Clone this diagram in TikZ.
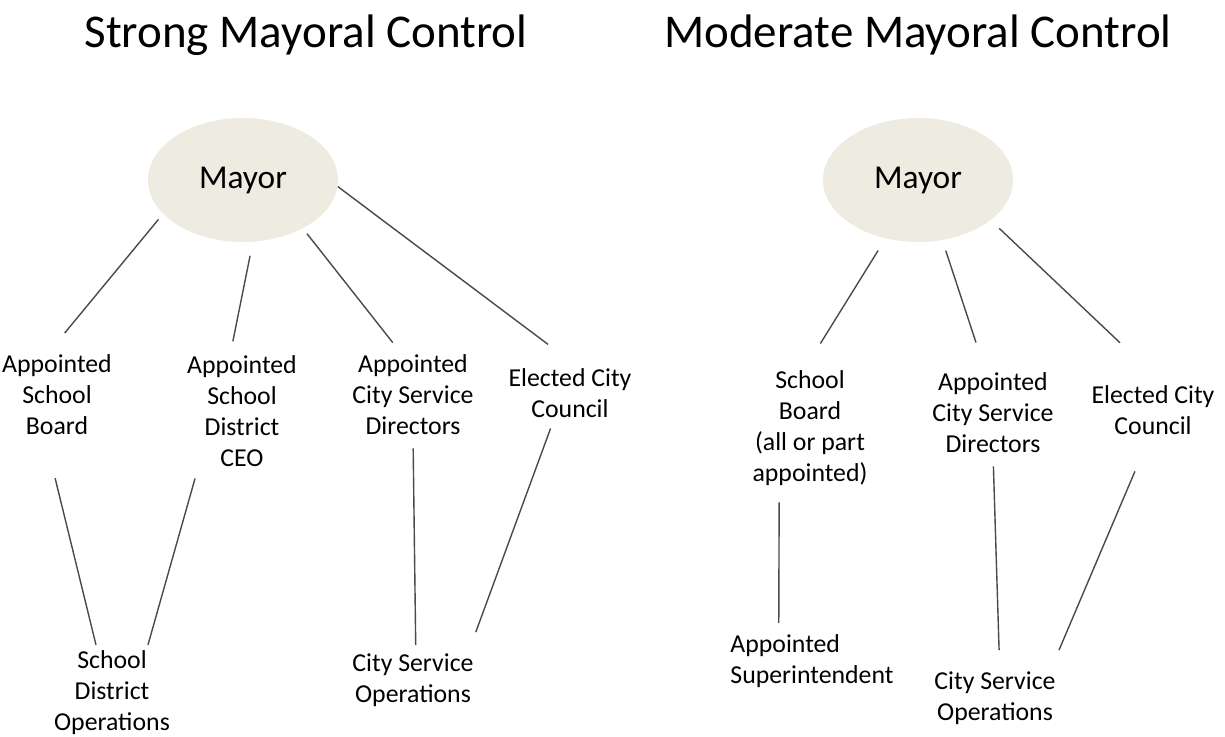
\documentclass[tikz,border=0pt]{standalone}
\usepackage{fontspec}
\setmainfont{Carlito}
\usetikzlibrary{shapes.geometric}
\definecolor{mayorfill}{HTML}{EEECE1}
\definecolor{linkgray}{HTML}{4A4A4A}
\begin{document}
\begin{tikzpicture}[x=0.5pt,y=-0.5pt,
  title/.style={font=\fontsize{23.5}{28}\selectfont},
  mayor/.style={shape=ellipse,fill=mayorfill,minimum width=95pt,minimum height=62pt,inner sep=0pt,font=\fontsize{16.7}{20}\selectfont},
  box/.style={align=center,inner sep=0pt,font=\fontsize{12.9}{15.5}\selectfont},
  link/.style={draw=linkgray,line width=0.7pt}]
\useasboundingbox (0,0) rectangle (1225,737);

\node(titleL) at (306,35)[title]{Strong Mayoral Control};
\node(titleR) at (918,35)[title]{Moderate Mayoral Control};

\node(mayorL) at (243,180)[mayor]{Mayor};
\node(asbL)  at (57,395)[box]{Appointed\\School\\Board};
\node(ceoL)  at (242,411)[box]{Appointed\\School\\District\\CEO};
\node(acsdL) at (413,395)[box]{Appointed\\City Service\\Directors};
\node(eccL)  at (570,393)[box]{Elected City\\Council};
\node(sdoL)  at (112,693)[box]{School\\District\\Operations};
\node(csoL)  at (413,680)[box]{City Service\\Operations};

\node(mayorR) at (918,180)[mayor]{Mayor};
\node(sbR)   at (810,428)[box]{School\\Board\\(all or part\\appointed)};
\node(acsdR) at (993,413)[box]{Appointed\\City Service\\Directors};
\node(eccR)  at (1153,410)[box]{Elected City\\Council};
\node(asR)   at (812,661)[box,align=left]{Appointed\\Superintendent};
\node(csoR)  at (995,698)[box]{City Service\\Operations};

\path [link]
  (mayorL.203)  edge [shorten <=3.5pt,shorten >=14pt]  (asbL.104)
  (mayorL.279)  edge [shorten <=7pt,shorten >=7pt]     (ceoL.102)
  (mayorL.321)  edge [shorten <=3.3pt,shorten >=7.6pt] (acsdL.105)
  (mayorL.356)  edge [shorten >=19.7pt]                (eccL.69)
  (asbL.253)    edge [shorten <=22pt,shorten >=2.9pt]  (sdoL.109)
  (ceoL.232)    edge [shorten <=6pt,shorten >=2.9pt]   (sdoL.51)
  (acsdL.south) edge [shorten <=6.5pt,shorten >=4pt]   (csoL.84)
  (eccL.238)    edge [shorten <=5.6pt,shorten >=11.2pt] (csoL.26);

\path [link]
  (mayorR.241)  edge [shorten <=7pt,shorten >=15.6pt]  (sbR.96)
  (mayorR.292)  edge [shorten <=5.4pt,shorten >=15.8pt] (acsdR.100)
  (mayorR.331)  edge [shorten <=5.8pt,shorten >=30.7pt] (eccR.65)
  (sbR.242)     edge [shorten <=8.2pt,shorten >=5.5pt] (asR.141)
  (acsdR.south) edge [shorten <=6.5pt,shorten >=10.5pt] (csoR.80)
  (eccR.264)    edge [shorten <=19.8pt,shorten >=11.4pt] (csoR.26);

\end{tikzpicture}
\end{document}
